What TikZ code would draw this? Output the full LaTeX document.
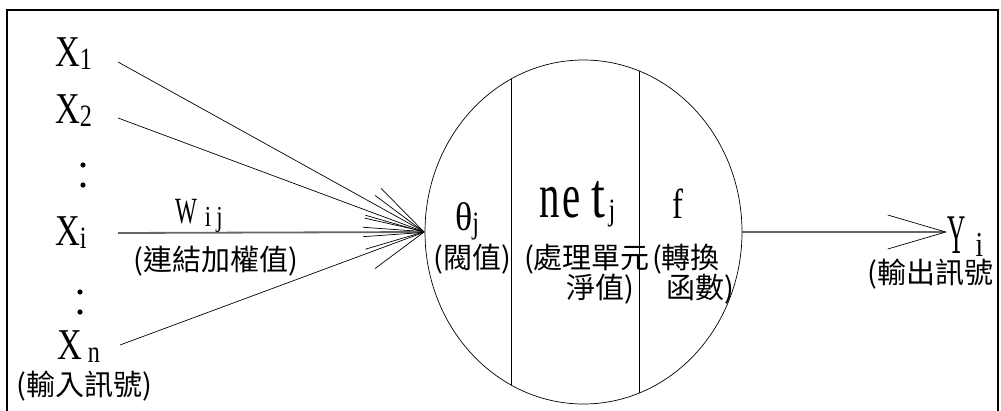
\documentclass[tikz,border=0pt]{standalone}
\usepackage{fontspec}
\setmainfont{Liberation Serif}[FakeStretch=0.78]
\newfontfamily\cjk{Noto Sans CJK TC}
\usetikzlibrary{arrows.meta,shapes.geometric}
\newcommand{\lowsub}[2][31]{\raisebox{-3pt}{\fontsize{#1}{#1}\selectfont #2}}

\begin{document}
\begin{tikzpicture}[x=1pt, y=-1pt, >={Straight Barb[length=58pt, width=34pt, line width=0.7pt, color=black]}, sym/.style={inner sep=0pt, anchor=base west, font=\fontsize{44}{44}\selectfont}, note/.style={inner sep=0pt, font=\cjk\fontsize{29}{31}\selectfont}, wire/.style={line width=0.7pt}, sig/.style={black!60, line width=1.8pt}]
	\useasboundingbox (0,0) rectangle (1001,410);
	\draw[line width=2.5pt] (7,420) -- (7,10) -- (998,10) -- (998,420);
	% inputs
	\node[sym] (x1) at (55,66) {X\lowsub{1}};
	\node[sym] (x2) at (55,123) {X\lowsub{2}};
	\node[sym] (xi) at (55,245) {X\lowsub{i}};
	\node[sym] (xn) at (57,359) {X\hspace{6pt}\lowsub{n}};
	\node[note] (inlbl) at (84,386) {(輸入訊號)};
	\fill (83,165) circle (2.6) (83,185) circle (2.6);
	\fill (80,292) circle (2.6) (80,312) circle (2.6);
	\coordinate (s1) at (118,62);
	\coordinate (s2) at (118,118);
	\coordinate (si) at (118,233);
	\coordinate (sn) at (120,345);
	% weight
	\node[sym, font=\fontsize{37}{37}\selectfont] (w) at (175,223) {\scalebox{0.8}[1]{W}\hspace{8pt}\lowsub[29]{i\hspace{5pt}j}};
	\node[note] (wlbl) at (216,261) {(連結加權值)};
	% neuron
	\node[draw, wire, ellipse, minimum width=317pt, minimum height=344pt, inner sep=0pt] (neuron) at (583.5,232) {};
	\begin{scope}
		\clip (neuron.center) ellipse [x radius=158.5pt, y radius=172pt];
		\draw[wire] (511,0) -- (511,410);
		\draw[wire] (639,0) -- (639,410);
	\end{scope}
	\draw[wire, ->] (s1) -- (neuron.west);
	\draw[wire, ->] (s2) -- (neuron.west);
	\draw[sig, ->] (si) -- (neuron.west);
	\draw[wire, ->] (sn) -- (neuron.west);
	\node[sym, font=\fontsize{40}{40}\selectfont] (theta) at (455,230) {\scalebox{1.15}[1]{θ}\lowsub{j}};
	\node[note] (thlbl) at (472,259) {(閥值)};
	\node[sym, font=\fontsize{64}{64}\selectfont] (net) at (539,217) {\scalebox{0.82}[1]{n}\hspace{3pt}\scalebox{0.82}[1]{e}\hspace{11pt}t\hspace{3pt}\lowsub{j}};
	\node[note] (netlbl) at (587,259) {(處理單元};
	\node[note] (netlbl2) at (600,289) {淨值)};
	\node[sym, font=\fontsize{42}{42}\selectfont] (f) at (672,218) {f};
	\node[note] (flbl) at (686,259) {(轉換};
	\node[note] (flbl2) at (700,289) {函數)};
	% output
	\node[sym, font=\fontsize{56}{56}\selectfont] (y) at (947,253) {\scalebox{0.58}[1]{Y}\hspace{10pt}\lowsub[35]{i}};
	\node[note, anchor=west] (ylbl) at (867,274) {(輸出訊號};
	\draw[sig, ->] (neuron.east) -- (neuron.east -| y.west);
\end{tikzpicture}
\end{document}
